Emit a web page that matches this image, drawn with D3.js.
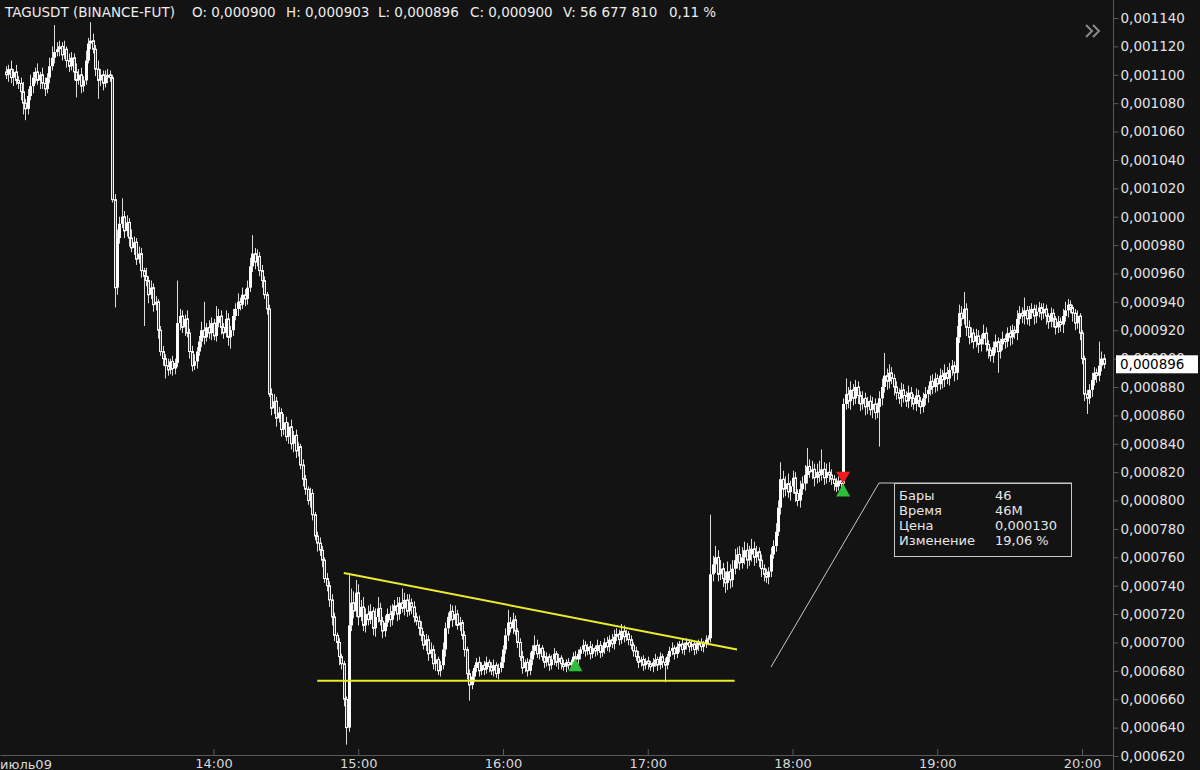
<!DOCTYPE html>
<html>
<head>
<meta charset="utf-8">
<script src="https://cdn.jsdelivr.net/npm/d3@7"></script>
<style>
  html, body { margin: 0; padding: 0; background: #131313; }
  svg { display: block; font-family: "DejaVu Sans", sans-serif; }
</style>
</head>
<body>
<div id="chart"></div>
<script>
// 1-minute candles, prices in units of 0.000001 USDT
var firstTime = new Date(2024, 6, 9, 12, 34);
var firstOpen = 1102;

var closes = [
  1100,1104,1098,1102,1096,1094,1088,1080,1076,1085,
  1092,1098,1102,1096,1100,1094,1090,1098,1106,1112,
  1116,1118,1120,1114,1118,1110,1106,1112,1102,1096,
  1100,1092,1096,1110,1122,1124,1118,1104,1096,1100,
  1094,1098,1100,1098,1012,950,985,995,1000,990,
  996,985,978,982,970,974,962,958,955,945,
  950,938,940,920,905,900,895,892,898,893,
  897,925,930,922,928,918,905,895,898,905,
  912,920,915,922,918,925,916,925,930,922,
  918,928,915,920,930,935,940,938,945,942,
  950,965,974,968,972,962,955,945,935,875,
  865,870,858,862,850,855,845,852,840,846,
  835,838,825,815,808,800,805,790,775,770,
  765,758,745,740,730,718,705,700,690,685,
  660,640,712,728,722,735,718,725,712,720,
  716,722,710,718,724,715,708,714,720,716,
  722,726,720,728,724,730,722,728,725,718,
  715,710,705,698,702,692,695,685,688,680,
  684,695,710,718,722,716,720,712,714,705,
  695,678,670,676,682,686,680,684,681,686,
  683,680,684,678,682,686,695,705,714,710,
  716,708,700,690,682,686,680,688,694,698,
  692,696,690,686,690,684,688,692,686,689,
  685,683,686,684,686,690,688,692,695,698,
  694,697,692,696,694,698,693,696,700,697,
  702,699,704,706,702,708,704,706,702,698,
  694,690,686,688,684,687,685,683,686,688,
  684,690,686,684,690,694,696,692,697,699,
  695,698,700,697,699,695,698,700,697,699,
  702,703,748,755,760,748,752,745,742,750,
  744,752,758,762,756,760,765,758,762,766,
  760,764,758,752,748,746,750,762,768,778,
  795,815,808,812,806,810,816,805,800,808,
  812,818,824,820,822,816,820,818,822,816,
  820,818,815,812,810,814,812,868,875,870,
  878,872,880,874,868,872,866,870,864,868,
  862,866,872,880,888,884,890,886,880,876,
  872,878,874,870,876,872,868,874,870,866,
  872,875,878,884,880,886,882,888,885,890,
  886,892,895,890,915,932,928,935,922,915,
  918,912,916,910,914,918,910,906,902,908,
  912,905,910,914,912,918,915,920,918,928,
  932,930,934,928,932,935,930,933,936,932,
  935,930,926,932,928,922,926,924,930,934,
  938,936,932,925,930,918,900,875,872,878,
  885,890,888,895,900,896
];

// wick length above the body top
var wickUp = [
  4,3,6,2,5,3,4,7,3,5, 8,4,3,6,2,5,4,3,6,8,
  19,5,4,3,6,2,5,4,3,6, 4,5,3,7,4,13,5,3,6,4,
  3,5,4,3,2,4,6,5,13,4, 5,3,6,4,3,5,4,2,6,3,
  5,3,4,2,3,4,3,5,2,4, 3,30,5,4,3,6,3,4,5,3,
  4,6,20,3,5,4,3,12,5,4, 3,6,4,3,5,4,6,3,5,4,
  5,6,13,4,5,3,4,3,2,3, 4,5,3,4,3,6,4,3,5,3,
  4,3,2,4,3,2,4,3,2,3, 4,3,2,4,3,4,3,2,3,2,
  2,2,37,10,8,9,6,5,7,4, 6,5,3,6,8,4,3,5,4,6,
  5,4,6,4,10,5,4,6,3,4, 3,4,5,3,4,3,5,3,4,2,
  3,5,4,3,5,4,6,3,4,2, 3,2,3,4,2,3,4,2,3,4,
  2,3,4,2,3,4,3,5,9,4, 5,3,2,3,4,2,3,5,4,7,
  4,3,2,4,3,2,3,4,2,3, 2,3,2,3,2,3,4,3,2,4,
  3,2,4,3,2,4,3,2,3,4, 3,4,5,4,3,5,4,3,2,3,
  2,3,4,2,3,2,3,2,3,4, 2,3,2,3,2,3,4,2,3,2,
  3,2,3,2,3,2,3,2,3,2, 3,2,42,6,8,5,6,4,5,7,
  5,6,8,5,6,7,6,5,6,7, 5,4,3,4,3,4,3,5,4,6,
  5,12,6,5,7,4,5,4,3,6, 5,7,13,5,6,4,6,8,14,5,
  6,7,4,3,4,3,3,4,11,5, 6,4,5,4,3,5,4,3,4,5,
  4,3,5,6,16,5,6,4,3,4, 3,5,4,3,5,4,3,5,4,3,
  4,5,3,4,5,4,3,5,4,6, 4,5,4,3,8,6,5,12,4,5,
  4,3,5,4,3,6,4,3,2,4, 5,3,4,5,3,4,5,4,3,6,
  5,4,9,3,5,4,3,5,4,3, 4,3,2,4,3,2,4,3,5,6,
  4,3,2,3,4,2,2,2,3,4, 5,4,3,17,5,3
];

// wick length below the body bottom
var wickDown = [
  3,5,4,6,3,4,6,8,8,4, 3,5,4,3,6,4,5,3,4,3,
  4,3,5,4,3,5,4,3,6,12, 3,5,4,3,2,4,3,5,13,4,
  5,3,4,3,2,14,5,4,3,5, 4,6,3,5,4,3,5,35,4,6,
  3,5,4,6,3,5,9,4,3,5, 4,3,5,4,6,3,5,4,3,5,
  3,4,5,3,4,5,3,4,3,5, 4,3,6,8,4,3,5,4,3,5,
  4,3,4,5,3,4,5,3,4,2, 5,4,6,3,5,4,3,5,4,6,
  5,4,3,5,4,3,5,4,3,6, 4,5,3,4,5,6,4,5,6,4,
  5,12,3,4,5,4,6,3,4,5, 4,3,5,6,4,3,5,4,3,5,
  4,3,5,4,3,5,4,3,5,4, 3,5,4,3,4,5,3,4,5,3,
  4,3,5,4,3,5,4,3,4,3, 5,4,11,3,4,3,4,3,4,3,
  4,3,4,3,4,3,4,3,4,3, 4,3,4,3,4,3,4,3,4,3,
  3,4,3,4,3,4,3,4,3,5, 4,3,4,3,4,3,4,3,4,3,
  4,3,4,3,4,3,4,3,4,3, 4,3,4,3,4,3,4,3,4,3,
  4,3,4,3,4,3,4,3,4,3, 4,3,4,12,3,4,3,4,3,4,
  3,4,3,4,3,4,3,4,3,4, 3,4,3,5,6,5,4,6,7,5,
  6,5,4,6,5,4,5,6,4,5, 6,4,5,6,5,4,5,4,3,4,
  3,5,6,5,4,6,5,6,4,5, 4,5,6,4,5,6,4,5,4,5,
  4,5,4,5,4,3,4,3,4,5, 6,5,4,6,5,4,6,5,4,6,
  5,4,28,5,4,6,5,4,6,5, 4,6,5,4,5,6,4,5,4,5,
  4,5,6,4,5,4,5,4,6,5, 4,5,4,6,5,4,5,4,6,5,
  4,5,4,6,5,4,5,6,4,5, 4,15,5,4,5,4,6,5,4,5,
  4,5,6,4,5,4,6,5,4,5, 4,6,5,4,6,5,4,5,6,4,
  5,4,6,5,4,5,4,5,11,4, 5,4,5,4,4,3
];

var priceTicks = [620,640,660,680,700,720,740,760,780,800,820,840,860,880,
                  900,920,940,960,980,1000,1020,1040,1060,1080,1100,1120,1140];
var hourTicks = [14,15,16,17,18,19,20];
var dateLabel = "июль09";
var lastPrice = 896;

var headerLabels = ["TAGUSDT (BINANCE-FUT)", "O: 0,000900", "H: 0,000903", "L: 0,000896",
                    "C: 0,000900", "V: 56 677 810", "0,11 %"];

// drawings on the chart: [hour, minute, price]
var upperTrend = [[14, 54, 749], [17, 37, 695]];
var lowerTrend = [[14, 43, 673], [17, 36, 673]];
var greenMarks = [[16, 30, 684], [18, 21, 807]];
var redMarks = [[18, 21, 816]];
var rulerLabels = ["Бары", "Время", "Цена", "Изменение"];
var rulerValues = ["46", "46M", "0,000130", "19,06 %"];

var W = 1200, H = 770;
var plotRight = 1113, plotBottom = 755;
var bg = "#131313";

function at(h, m) { return new Date(2024, 6, 9, h, m); }
function fmtPrice(v) { return (v / 1e6).toFixed(6).replace(".", ","); }

var candles = closes.map(function(c, i) {
  var o = i ? closes[i - 1] : firstOpen;
  return {
    t: d3.timeMinute.offset(firstTime, i),
    o: o, c: c,
    h: Math.max(o, c) + (wickUp[i] || 0),
    l: Math.min(o, c) - (wickDown[i] || 0)
  };
});

var x = d3.scaleTime()
  .domain([new Date(2024, 6, 9, 12, 31, 30), new Date(2024, 6, 9, 20, 12, 51)])
  .range([0, plotRight]);
var y = d3.scaleLinear().domain([620, 1140]).range([756, 18]);

var svg = d3.select("#chart").append("svg")
  .attr("width", W).attr("height", H);

svg.append("rect").attr("width", W).attr("height", H).attr("fill", bg);

svg.append("clipPath").attr("id", "plotclip")
  .append("rect").attr("width", plotRight).attr("height", plotBottom);

var plot = svg.append("g").attr("clip-path", "url(#plotclip)");

// wicks
plot.selectAll(".wick").data(candles).enter().append("line")
  .attr("class", "wick")
  .attr("x1", function(d) { return Math.round(x(d.t)) + 0.5; })
  .attr("x2", function(d) { return Math.round(x(d.t)) + 0.5; })
  .attr("y1", function(d) { return y(d.h); })
  .attr("y2", function(d) { return y(d.l); })
  .attr("stroke", "#dcdcdc").attr("stroke-width", 1);

// bodies: rising filled, falling hollow
plot.selectAll(".body").data(candles).enter().append("rect")
  .attr("class", "body")
  .attr("x", function(d) { return Math.round(x(d.t)) - (d.c >= d.o ? 1 : 0.5); })
  .attr("width", function(d) { return d.c >= d.o ? 3 : 2; })
  .attr("y", function(d) { return y(Math.max(d.o, d.c)); })
  .attr("height", function(d) { return Math.max(1, y(Math.min(d.o, d.c)) - y(Math.max(d.o, d.c))); })
  .attr("fill", function(d) { return d.c >= d.o ? "#ffffff" : "#3a3a3a"; })
  .attr("stroke", function(d) { return d.c >= d.o ? "none" : "#f6f6f6"; })
  .attr("stroke-width", 1);

// trend lines
[upperTrend, lowerTrend].forEach(function(seg) {
  plot.append("line")
    .attr("x1", x(at(seg[0][0], seg[0][1]))).attr("y1", y(seg[0][2]))
    .attr("x2", x(at(seg[1][0], seg[1][1]))).attr("y2", y(seg[1][2]))
    .attr("stroke", "#ecea2c").attr("stroke-width", 2);
});

// markers
greenMarks.forEach(function(m) {
  var cx = x(at(m[0], m[1])), cy = y(m[2]);
  plot.append("path")
    .attr("d", "M" + cx + "," + (cy - 7) + "L" + (cx + 7) + "," + (cy + 6) + "L" + (cx - 7) + "," + (cy + 6) + "Z")
    .attr("fill", "#2fbf3a");
});
redMarks.forEach(function(m) {
  var cx = x(at(m[0], m[1])), cy = y(m[2]);
  plot.append("path")
    .attr("d", "M" + (cx - 7) + "," + (cy - 6) + "L" + (cx + 7) + "," + (cy - 6) + "L" + cx + "," + (cy + 6) + "Z")
    .attr("fill", "#ee1c1c");
});

// measurement ruler box
var rul = svg.append("g");
rul.append("polyline")
  .attr("points", "771,667 879,483 1072,483")
  .attr("fill", "none").attr("stroke", "#c8c8c8").attr("stroke-width", 1);
rul.append("rect")
  .attr("x", 894.5).attr("y", 483.5).attr("width", 177).attr("height", 73)
  .attr("fill", bg).attr("stroke", "#c8c8c8").attr("stroke-width", 1);
rulerLabels.forEach(function(s, i) {
  rul.append("text").attr("x", 899).attr("y", 500 + i * 15).text(s)
    .attr("fill", "#e6e6e6").attr("font-size", 13);
  rul.append("text").attr("x", 995).attr("y", 500 + i * 15).text(rulerValues[i])
    .attr("fill", "#e6e6e6").attr("font-size", 13);
});

// bottom time axis
var xAxis = svg.append("g")
  .attr("transform", "translate(0," + plotBottom + ")")
  .call(d3.axisBottom(x)
    .tickValues(hourTicks.map(function(h) { return at(h, 0); }))
    .tickFormat(d3.timeFormat("%H:%M"))
    .tickSizeInner(-6).tickSizeOuter(0).tickPadding(4));
xAxis.select(".domain").attr("stroke", "#5a5a5a");
xAxis.selectAll(".tick line").attr("stroke", "#5a5a5a");
xAxis.selectAll("text").attr("fill", "#d8d8d8").attr("font-size", 13)
  .attr("font-family", "DejaVu Sans");
svg.append("text").attr("x", 0).attr("y", 769).text(dateLabel)
  .attr("fill", "#d8d8d8").attr("font-size", 13);

// right price axis
svg.append("line")
  .attr("x1", plotRight + 0.5).attr("x2", plotRight + 0.5)
  .attr("y1", 0).attr("y2", H)
  .attr("stroke", "#5a5a5a");
var yAxis = svg.append("g")
  .attr("transform", "translate(" + (plotRight + 0.5) + ",0)")
  .call(d3.axisRight(y).tickValues(priceTicks).tickFormat(fmtPrice)
    .tickSize(5).tickPadding(2));
yAxis.select(".domain").remove();
yAxis.selectAll(".tick line").attr("stroke", "#5a5a5a");
yAxis.selectAll("text").attr("fill", "#e2e2e2").attr("font-size", 13.5)
  .attr("font-family", "DejaVu Sans");

// last price tag
svg.append("rect")
  .attr("x", plotRight + 3).attr("y", y(lastPrice) - 9)
  .attr("width", 82).attr("height", 18).attr("fill", "#ffffff");
svg.append("text")
  .attr("x", plotRight + 7).attr("y", y(lastPrice) + 5)
  .text(fmtPrice(lastPrice)).attr("fill", "#000").attr("font-size", 13.5);

// header
var headerX = [5, 192, 286, 378, 470, 563, 669];
headerLabels.forEach(function(s, i) {
  svg.append("text").attr("x", headerX[i]).attr("y", 17).text(s)
    .attr("fill", "#ececec").attr("font-size", 13.5);
});

// collapse chevrons
svg.append("path")
  .attr("d", "M1086,25 L1092,31 L1086,37 M1093,25 L1099,31 L1093,37")
  .attr("fill", "none").attr("stroke", "#8a8a8a").attr("stroke-width", 2);
</script>
</body>
</html>
